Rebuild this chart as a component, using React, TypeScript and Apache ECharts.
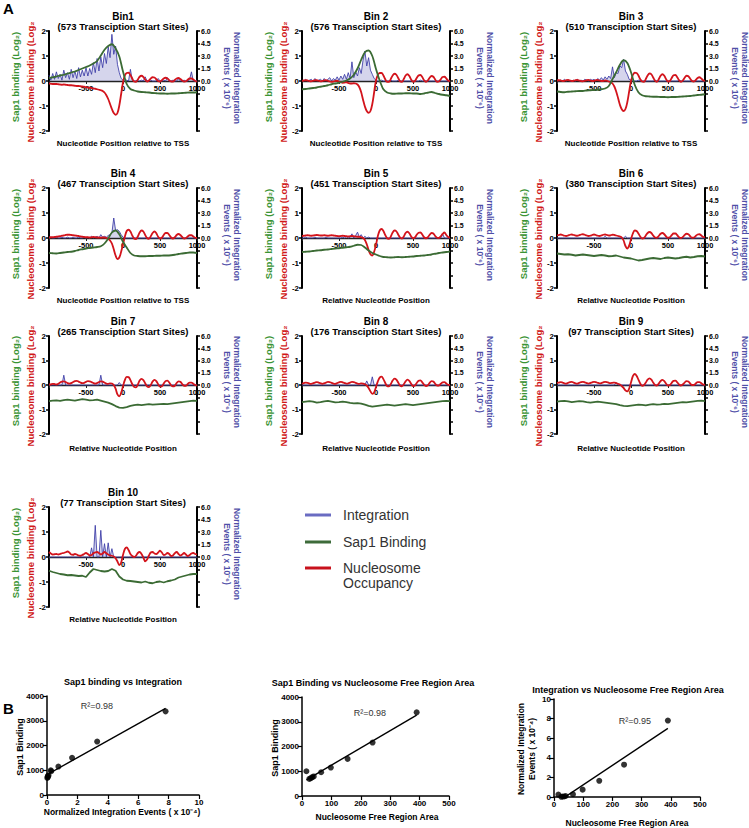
import React, { useEffect, useRef } from "react";
import * as echarts from "echarts";

// ---------- DATA ----------
const BIN_NAMES = ["Bin1", "Bin 2", "Bin 3", "Bin 4", "Bin 5", "Bin 6", "Bin 7", "Bin 8", "Bin 9", "Bin 10"];
const BIN_TSS = [573, 576, 510, 467, 451, 380, 265, 176, 97, 77];
const X_NAMES = [
  "Nucleotide Position relative to TSS", "Nucleotide Position relative to TSS", "Nucleotide Position relative to TSS",
  "Nucleotide Position relative to TSS", "Relative Nucleotide Position", "Relative Nucleotide Position",
  "Relative Nucleotide Position", "Relative Nucleotide Position", "Relative Nucleotide Position", "Relative Nucleotide Position",
];
// nucleotide positions (-1000..1000)
const POS_25 = Array.from({ length: 81 }, (_, k) => -1000 + 25 * k);
const POS_50 = Array.from({ length: 41 }, (_, k) => -1000 + 50 * k);

// Nucleosome binding (Log2), every 25 nt
const NUC_1 = [
  -0.10, -0.11, -0.12, -0.12, -0.12, -0.13, -0.14, -0.15, -0.14, -0.15,
  -0.16, -0.17, -0.17, -0.18, -0.19, -0.20, -0.20, -0.21, -0.22, -0.23,
  -0.25, -0.26, -0.27, -0.28, -0.30, -0.31, -0.33, -0.35, -0.37, -0.40,
  -0.46, -0.57, -0.72, -0.92, -1.12, -1.28, -1.35, -1.28, -0.98, -0.52,
  -0.05, 0.22, 0.32, 0.33, 0.24, 0.10, -0.02, -0.03, 0.06, 0.17,
  0.21, 0.16, 0.06, -0.02, 0.02, 0.10, 0.15, 0.14, 0.07, 0.00,
  -0.02, 0.03, 0.10, 0.13, 0.10, 0.03, -0.02, -0.02, 0.04, 0.10,
  0.12, 0.08, 0.02, -0.02, -0.01, 0.05, 0.10, 0.10, 0.06, 0.00,
  -0.02,
];
const NUC_2 = [
  0.00, 0.02, 0.03, 0.02, 0.00, -0.01, 0.01, 0.03, 0.03, 0.01,
  -0.01, 0.00, 0.02, 0.03, 0.01, -0.02, -0.03, -0.02, 0.00, 0.01,
  -0.02, -0.05, -0.07, -0.06, -0.05, -0.08, -0.10, -0.10, -0.09, -0.10,
  -0.14, -0.25, -0.45, -0.75, -1.02, -1.20, -1.27, -1.20, -0.92, -0.45,
  0.02, 0.24, 0.32, 0.32, 0.22, 0.07, -0.03, -0.03, 0.08, 0.22,
  0.29, 0.25, 0.12, -0.01, -0.03, 0.08, 0.22, 0.27, 0.20, 0.06,
  -0.03, 0.00, 0.12, 0.22, 0.24, 0.16, 0.03, -0.03, 0.02, 0.13,
  0.20, 0.17, 0.06, -0.03, -0.02, 0.07, 0.16, 0.17, 0.10, 0.02,
  -0.01,
];
const NUC_3 = [
  0.02, 0.03, 0.02, 0.00, 0.01, 0.03, 0.04, 0.02, 0.00, 0.01,
  0.03, 0.04, 0.02, 0.00, -0.01, 0.01, 0.03, 0.04, 0.02, 0.00,
  0.01, 0.03, 0.04, 0.02, 0.00, 0.00, 0.02, 0.01, -0.02, -0.05,
  -0.10, -0.22, -0.42, -0.68, -0.95, -1.13, -1.20, -1.12, -0.85, -0.42,
  0.00, 0.24, 0.33, 0.32, 0.22, 0.07, -0.02, -0.03, 0.08, 0.22,
  0.30, 0.27, 0.14, 0.01, -0.03, 0.07, 0.21, 0.27, 0.21, 0.07,
  -0.02, 0.00, 0.12, 0.23, 0.24, 0.15, 0.03, -0.03, 0.02, 0.13,
  0.21, 0.19, 0.09, 0.00, -0.02, 0.04, 0.12, 0.15, 0.10, 0.03,
  0.00,
];
const NUC_4 = [
  0.02, 0.03, 0.03, 0.04, 0.05, 0.06, 0.07, 0.09, 0.10, 0.12,
  0.13, 0.13, 0.12, 0.11, 0.10, 0.09, 0.08, 0.06, 0.05, 0.04,
  0.03, 0.03, 0.02, 0.03, 0.04, 0.03, 0.02, 0.02, 0.01, 0.02,
  0.02, 0.00, -0.03, -0.10, -0.22, -0.45, -0.70, -0.84, -0.78, -0.55,
  -0.25, 0.05, 0.28, 0.33, 0.26, 0.10, -0.02, -0.04, 0.06, 0.22,
  0.30, 0.26, 0.12, 0.00, -0.03, 0.07, 0.20, 0.26, 0.19, 0.05,
  -0.02, 0.01, 0.12, 0.20, 0.20, 0.12, 0.02, -0.02, 0.03, 0.12,
  0.16, 0.12, 0.04, -0.02, 0.00, 0.06, 0.11, 0.11, 0.06, 0.01,
  0.00,
];
const NUC_5 = [
  0.08, 0.09, 0.10, 0.11, 0.10, 0.09, 0.10, 0.11, 0.12, 0.11,
  0.10, 0.10, 0.11, 0.10, 0.09, 0.10, 0.11, 0.10, 0.09, 0.08,
  0.07, 0.08, 0.09, 0.08, 0.07, 0.06, 0.07, 0.08, 0.07, 0.06,
  0.05, 0.05, 0.03, 0.00, -0.08, -0.25, -0.48, -0.65, -0.70, -0.55,
  -0.27, 0.08, 0.30, 0.36, 0.28, 0.12, -0.01, -0.03, 0.06, 0.22,
  0.30, 0.27, 0.14, 0.02, -0.02, 0.06, 0.20, 0.25, 0.19, 0.06,
  -0.01, 0.02, 0.13, 0.21, 0.22, 0.14, 0.03, -0.01, 0.03, 0.13,
  0.20, 0.18, 0.08, 0.01, 0.00, 0.07, 0.16, 0.22, 0.12, 0.04,
  0.02,
];
const NUC_6 = [
  0.10, 0.12, 0.14, 0.12, 0.09, 0.08, 0.10, 0.13, 0.14, 0.12,
  0.10, 0.09, 0.11, 0.14, 0.15, 0.13, 0.10, 0.08, 0.09, 0.12,
  0.14, 0.12, 0.09, 0.08, 0.10, 0.13, 0.14, 0.12, 0.10, 0.11,
  0.13, 0.12, 0.10, 0.08, 0.06, 0.02, -0.10, -0.32, -0.42, -0.30,
  -0.05, 0.18, 0.30, 0.28, 0.18, 0.06, -0.02, 0.00, 0.10, 0.20,
  0.24, 0.20, 0.10, 0.02, 0.01, 0.08, 0.17, 0.20, 0.15, 0.06,
  0.01, 0.03, 0.11, 0.18, 0.18, 0.11, 0.03, 0.00, 0.04, 0.12,
  0.17, 0.15, 0.07, 0.01, 0.02, 0.08, 0.14, 0.15, 0.10, 0.04,
  0.03,
];
const NUC_7 = [
  0.02, 0.03, 0.05, 0.04, 0.02, 0.05, 0.10, 0.14, 0.15, 0.12,
  0.08, 0.06, 0.08, 0.12, 0.16, 0.17, 0.14, 0.10, 0.08, 0.09,
  0.13, 0.16, 0.15, 0.12, 0.08, 0.06, 0.08, 0.12, 0.15, 0.14,
  0.10, 0.06, 0.05, 0.07, 0.06, 0.00, -0.15, -0.38, -0.46, -0.32,
  -0.05, 0.20, 0.33, 0.32, 0.20, 0.04, -0.08, -0.10, 0.02, 0.18,
  0.25, 0.20, 0.07, -0.06, -0.09, 0.00, 0.14, 0.21, 0.16, 0.03,
  -0.07, -0.05, 0.06, 0.16, 0.18, 0.10, -0.01, -0.06, -0.03, 0.08,
  0.15, 0.13, 0.04, -0.03, -0.03, 0.04, 0.10, 0.10, 0.05, 0.00,
  -0.02,
];
const NUC_8 = [
  0.05, 0.08, 0.10, 0.09, 0.06, 0.05, 0.07, 0.10, 0.12, 0.10,
  0.07, 0.05, 0.07, 0.10, 0.13, 0.12, 0.09, 0.06, 0.05, 0.08,
  0.11, 0.13, 0.11, 0.08, 0.06, 0.07, 0.10, 0.13, 0.12, 0.09,
  0.06, 0.05, 0.07, 0.06, 0.03, -0.02, -0.12, -0.26, -0.36, -0.30,
  -0.08, 0.15, 0.30, 0.34, 0.24, 0.08, -0.04, -0.06, 0.04, 0.18,
  0.26, 0.22, 0.10, -0.02, -0.05, 0.03, 0.15, 0.22, 0.17, 0.05,
  -0.04, -0.02, 0.08, 0.17, 0.19, 0.11, 0.01, -0.04, -0.01, 0.09,
  0.16, 0.14, 0.05, -0.02, -0.02, 0.05, 0.11, 0.12, 0.06, 0.01,
  0.00,
];
const NUC_9 = [
  0.08, 0.10, 0.12, 0.10, 0.07, 0.06, 0.09, 0.12, 0.13, 0.10,
  0.07, 0.06, 0.09, 0.12, 0.13, 0.11, 0.08, 0.06, 0.08, 0.11,
  0.13, 0.12, 0.09, 0.07, 0.08, 0.11, 0.13, 0.12, 0.09, 0.08,
  0.09, 0.10, 0.08, 0.05, 0.02, -0.04, -0.12, -0.22, -0.26, -0.15,
  0.10, 0.36, 0.45, 0.38, 0.22, 0.06, -0.03, 0.00, 0.10, 0.22,
  0.27, 0.22, 0.10, 0.00, -0.02, 0.06, 0.16, 0.21, 0.16, 0.05,
  -0.02, 0.00, 0.09, 0.17, 0.18, 0.11, 0.02, -0.02, 0.02, 0.10,
  0.16, 0.14, 0.06, 0.00, 0.00, 0.06, 0.12, 0.12, 0.07, 0.02,
  0.01,
];
const NUC_10 = [
  0.20, 0.14, 0.10, 0.11, 0.12, 0.10, 0.12, 0.15, 0.16, 0.19,
  0.22, 0.18, 0.10, 0.09, 0.12, 0.10, 0.06, 0.05, 0.08, 0.12,
  0.16, 0.12, 0.06, 0.08, 0.15, 0.18, 0.20, 0.16, 0.10, 0.14,
  0.20, 0.15, 0.10, 0.06, 0.05, 0.02, -0.05, -0.18, -0.32, -0.22,
  0.08, 0.32, 0.38, 0.28, 0.12, 0.04, 0.00, 0.05, 0.16, 0.20,
  0.12, -0.02, -0.17, -0.10, 0.06, 0.18, 0.20, 0.14, 0.12, 0.18,
  0.25, 0.18, 0.08, 0.10, 0.16, 0.12, 0.04, 0.06, 0.15, 0.20,
  0.12, 0.06, 0.10, 0.16, 0.10, 0.04, 0.08, 0.14, 0.16, 0.12,
  0.10,
];

// Sap1 binding (Log2), every 50 nt
const SAP_1 = [
  0.12, 0.15, 0.18, 0.22, 0.25, 0.30, 0.34, 0.38, 0.44, 0.50,
  0.56, 0.62, 0.70, 0.80, 1.02, 1.25, 1.40, 1.47, 1.30, 0.98,
  0.38, -0.12, -0.32, -0.38, -0.42, -0.44, -0.45, -0.46, -0.48, -0.49,
  -0.50, -0.50, -0.51, -0.50, -0.50, -0.49, -0.48, -0.47, -0.46, -0.46,
  -0.45,
];
const SAP_2 = [
  -0.33, -0.32, -0.30, -0.28, -0.26, -0.23, -0.20, -0.17, -0.13, -0.10,
  -0.07, -0.03, 0.02, 0.10, 0.25, 0.50, 0.85, 1.15, 1.22, 1.00,
  0.48, 0.02, -0.33, -0.46, -0.50, -0.51, -0.50, -0.50, -0.49, -0.49,
  -0.50, -0.50, -0.52, -0.50, -0.47, -0.44, -0.48, -0.52, -0.55, -0.57,
  -0.60,
];
const SAP_3 = [
  -0.42, -0.44, -0.45, -0.43, -0.42, -0.41, -0.40, -0.40, -0.38, -0.37,
  -0.36, -0.35, -0.33, -0.30, -0.20, 0.08, 0.35, 0.65, 0.83, 0.72,
  0.35, -0.15, -0.45, -0.57, -0.61, -0.62, -0.63, -0.63, -0.64, -0.64,
  -0.65, -0.64, -0.64, -0.63, -0.62, -0.61, -0.60, -0.58, -0.56, -0.55,
  -0.53,
];
const SAP_4 = [
  -0.60, -0.61, -0.62, -0.60, -0.58, -0.56, -0.55, -0.52, -0.48, -0.45,
  -0.42, -0.40, -0.38, -0.36, -0.33, -0.22, -0.02, 0.22, 0.30, 0.15,
  -0.15, -0.38, -0.60, -0.70, -0.72, -0.73, -0.73, -0.72, -0.72, -0.71,
  -0.71, -0.70, -0.70, -0.69, -0.67, -0.64, -0.62, -0.60, -0.58, -0.58,
  -0.60,
];
const SAP_5 = [
  -0.56, -0.55, -0.54, -0.52, -0.50, -0.49, -0.47, -0.46, -0.44, -0.42,
  -0.41, -0.39, -0.37, -0.35, -0.31, -0.27, -0.28, -0.38, -0.50, -0.60,
  -0.66, -0.72, -0.76, -0.77, -0.78, -0.77, -0.76, -0.77, -0.76, -0.75,
  -0.74, -0.72, -0.71, -0.70, -0.68, -0.66, -0.63, -0.60, -0.58, -0.56,
  -0.54,
];
const SAP_6 = [
  -0.62, -0.64, -0.66, -0.65, -0.67, -0.70, -0.68, -0.66, -0.68, -0.70,
  -0.72, -0.70, -0.68, -0.70, -0.73, -0.72, -0.70, -0.74, -0.78, -0.80,
  -0.82, -0.86, -0.90, -0.88, -0.85, -0.82, -0.80, -0.82, -0.84, -0.80,
  -0.78, -0.80, -0.82, -0.80, -0.77, -0.75, -0.78, -0.76, -0.73, -0.72,
  -0.74,
];
const SAP_7 = [
  -0.66, -0.64, -0.63, -0.65, -0.62, -0.60, -0.62, -0.64, -0.61, -0.58,
  -0.60, -0.63, -0.62, -0.60, -0.64, -0.68, -0.72, -0.78, -0.86, -0.92,
  -0.93, -0.90, -0.85, -0.82, -0.80, -0.82, -0.80, -0.78, -0.80, -0.79,
  -0.78, -0.77, -0.78, -0.76, -0.74, -0.72, -0.70, -0.68, -0.66, -0.64,
  -0.65,
];
const SAP_8 = [
  -0.70, -0.68, -0.66, -0.68, -0.72, -0.70, -0.67, -0.65, -0.68, -0.71,
  -0.70, -0.68, -0.70, -0.73, -0.75, -0.74, -0.76, -0.80, -0.85, -0.88,
  -0.86, -0.84, -0.82, -0.80, -0.82, -0.84, -0.82, -0.80, -0.78, -0.80,
  -0.82, -0.80, -0.78, -0.76, -0.74, -0.72, -0.70, -0.68, -0.66, -0.65,
  -0.66,
];
const SAP_9 = [
  -0.68, -0.66, -0.65, -0.67, -0.70, -0.68, -0.66, -0.67, -0.70, -0.72,
  -0.70, -0.68, -0.70, -0.72, -0.74, -0.76, -0.78, -0.82, -0.85, -0.86,
  -0.84, -0.82, -0.80, -0.81, -0.83, -0.80, -0.78, -0.80, -0.79, -0.77,
  -0.78, -0.76, -0.74, -0.72, -0.70, -0.71, -0.69, -0.67, -0.65, -0.64,
  -0.66,
];
const SAP_10 = [
  -0.55, -0.60, -0.64, -0.68, -0.70, -0.73, -0.72, -0.74, -0.76, -0.75,
  -0.80, -0.62, -0.48, -0.52, -0.56, -0.58, -0.56, -0.48, -0.55, -0.78,
  -0.90, -0.95, -0.96, -0.98, -1.00, -1.02, -0.98, -1.03, -1.05, -1.00,
  -0.98, -1.02, -0.97, -0.94, -0.90, -0.82, -0.78, -0.74, -0.70, -0.68,
  -0.68,
];

// Normalized integration events (x 10^-6), every 25 nt
const INT_1 = [
  0.7, 0.1, 0.9, 0.2, 1.1, 0.3, 0.8, 0.1, 1.3, 0.4,
  1.0, 0.2, 1.4, 0.4, 1.2, 0.3, 1.6, 0.5, 1.3, 0.6,
  1.6, 0.6, 1.5, 0.8, 2.2, 1.0, 2.7, 1.2, 2.9, 1.6,
  3.3, 2.1, 4.1, 2.8, 5.6, 3.2, 4.2, 2.0, 1.0, 0.3,
  0.1, 0.0, 0.1, 0.0, 1.4, 0.1, 0.0, 0.0, 0.2, 0.0,
  0.1, 0.0, 0.5, 0.0, 0.0, 0.1, 0.0, 0.0, 0.0, 0.3,
  0.0, 0.0, 0.1, 0.0, 0.4, 0.0, 0.0, 0.1, 0.0, 0.0,
  0.3, 0.0, 0.0, 0.1, 0.0, 0.0, 0.2, 1.1, 0.0, 0.0,
  0.1,
];
const INT_2 = [
  0.1, 0.0, 0.2, 0.0, 0.1, 0.2, 0.0, 0.3, 0.0, 0.1,
  0.2, 0.0, 0.3, 0.0, 0.2, 0.4, 0.0, 0.3, 0.1, 0.5,
  0.1, 0.6, 0.2, 0.8, 0.2, 1.0, 0.3, 2.3, 0.4, 1.1,
  0.6, 1.6, 0.9, 2.5, 3.6, 1.8, 2.8, 1.3, 0.8, 0.3,
  0.1, 0.0, 0.0, 0.1, 0.0, 0.0, 0.0, 0.0, 0.1, 0.0,
  0.0, 0.0, 0.1, 0.0, 0.0, 0.0, 0.0, 0.0, 0.0, 0.0,
  0.0, 0.0, 0.0, 0.0, 0.1, 0.0, 0.0, 0.0, 0.0, 0.0,
  0.0, 0.0, 0.0, 0.0, 0.0, 0.0, 0.0, 0.0, 0.0, 0.0,
  0.0,
];
const INT_3 = [
  0.1, 0.0, 0.1, 0.0, 0.2, 0.0, 0.1, 0.0, 0.0, 0.1,
  0.0, 0.2, 0.0, 0.1, 0.0, 0.2, 0.1, 0.0, 0.2, 0.1,
  0.2, 0.0, 0.3, 0.1, 0.4, 0.1, 0.5, 0.2, 0.6, 0.3,
  1.7, 0.4, 1.0, 0.9, 1.8, 1.6, 2.6, 1.2, 0.8, 0.2,
  0.1, 0.0, 0.0, 0.0, 0.1, 0.0, 0.0, 0.0, 0.0, 0.0,
  0.0, 0.0, 0.0, 0.1, 0.0, 0.0, 0.0, 0.0, 0.0, 0.0,
  0.0, 0.0, 0.0, 0.0, 0.0, 0.0, 0.1, 0.0, 0.0, 0.0,
  0.0, 0.0, 0.0, 0.0, 0.0, 0.0, 0.0, 0.0, 0.0, 0.0,
  0.0,
];
const INT_4 = [
  0.0, 0.1, 0.0, 0.0, 0.1, 0.0, 0.0, 0.1, 0.0, 0.0,
  0.1, 0.0, 0.0, 0.1, 0.0, 0.0, 0.1, 0.0, 0.0, 0.1,
  0.0, 0.1, 0.0, 0.2, 0.0, 0.1, 0.2, 0.0, 0.4, 0.1,
  0.2, 0.1, 0.3, 0.4, 0.6, 2.4, 0.9, 1.0, 0.8, 0.4,
  0.1, 0.0, 0.0, 0.0, 0.0, 0.0, 0.0, 0.0, 0.0, 0.0,
  0.0, 0.0, 0.0, 0.0, 0.0, 0.0, 0.0, 0.0, 0.0, 0.0,
  0.0, 0.0, 0.0, 0.0, 0.0, 0.0, 0.0, 0.0, 0.0, 0.0,
  0.0, 0.0, 0.0, 0.0, 0.0, 0.0, 0.0, 0.0, 0.0, 0.0,
  0.0,
];
const INT_5 = [
  0.0, 0.0, 0.1, 0.0, 0.0, 0.0, 0.0, 0.1, 0.0, 0.0,
  0.0, 0.0, 0.0, 0.1, 0.0, 0.0, 0.0, 0.0, 0.0, 0.0,
  0.0, 0.0, 0.1, 0.0, 0.2, 0.0, 0.1, 0.5, 0.0, 0.3,
  0.7, 0.1, 0.4, 0.0, 0.2, 0.0, 0.1, 0.0, 0.0, 0.0,
  0.0, 0.0, 0.0, 0.0, 0.0, 0.0, 0.0, 0.0, 0.0, 0.0,
  0.0, 0.0, 0.0, 0.0, 0.0, 0.0, 0.0, 0.0, 0.0, 0.0,
  0.0, 0.0, 0.0, 0.0, 0.0, 0.0, 0.0, 0.0, 0.0, 0.0,
  0.0, 0.0, 0.0, 0.0, 0.0, 0.0, 0.5, 0.0, 0.0, 0.0,
  0.0,
];
const INT_6 = [
  0.0, 0.0, 0.0, 0.0, 0.0, 0.0, 0.0, 0.0, 0.0, 0.0,
  0.0, 0.0, 0.0, 0.0, 0.0, 0.0, 0.0, 0.0, 0.0, 0.0,
  0.0, 0.0, 0.0, 0.0, 0.0, 0.0, 0.2, 0.0, 0.0, 0.0,
  0.0, 0.0, 0.0, 0.0, 0.0, 0.0, 0.0, 0.2, 0.0, 0.0,
  0.0, 0.0, 0.0, 0.0, 0.0, 0.0, 0.0, 0.0, 0.0, 0.0,
  0.0, 0.0, 0.0, 0.0, 0.0, 0.0, 0.0, 0.0, 0.0, 0.0,
  0.0, 0.0, 0.0, 0.0, 0.0, 0.0, 0.0, 0.0, 0.0, 0.0,
  0.0, 0.0, 0.0, 0.0, 0.0, 0.0, 0.0, 0.0, 0.0, 0.0,
  0.0,
];
const INT_7 = [
  0.0, 0.0, 0.0, 0.0, 0.0, 0.0, 0.0, 0.0, 1.2, 0.0,
  0.0, 0.0, 0.0, 0.0, 0.0, 0.0, 0.0, 0.0, 0.0, 0.0,
  0.0, 0.0, 0.0, 0.0, 0.0, 0.0, 0.0, 0.0, 1.2, 0.0,
  0.0, 0.0, 0.0, 0.0, 0.0, 0.0, 0.0, 0.0, 0.3, 0.0,
  0.0, 0.0, 0.0, 0.0, 0.0, 0.0, 0.0, 0.0, 0.0, 0.0,
  0.0, 0.0, 0.0, 0.0, 0.0, 0.0, 0.0, 0.0, 0.0, 0.0,
  0.0, 0.0, 0.0, 0.0, 0.0, 0.0, 0.0, 0.0, 0.0, 0.0,
  0.0, 0.0, 0.0, 0.0, 0.0, 0.0, 0.0, 0.0, 0.0, 0.0,
  0.0,
];
const INT_8 = [
  0.0, 0.0, 0.0, 0.0, 0.0, 0.0, 0.0, 0.0, 0.0, 0.0,
  0.0, 0.0, 0.0, 0.0, 0.0, 0.0, 0.0, 0.0, 0.0, 0.0,
  0.0, 0.0, 0.0, 0.0, 0.0, 0.0, 0.0, 0.0, 0.0, 0.0,
  0.0, 0.0, 0.0, 0.0, 0.0, 0.5, 0.0, 0.0, 1.0, 0.0,
  0.0, 0.0, 0.0, 0.0, 0.0, 0.0, 0.0, 0.0, 0.0, 0.0,
  0.0, 0.0, 0.0, 0.0, 0.0, 0.0, 0.0, 0.0, 0.0, 0.0,
  0.0, 0.0, 0.0, 0.0, 0.0, 0.0, 0.0, 0.0, 0.0, 0.0,
  0.0, 0.0, 0.0, 0.0, 0.0, 0.0, 0.0, 0.0, 0.0, 0.0,
  0.0,
];
const INT_9 = [
  0.0, 0.0, 0.0, 0.0, 0.0, 0.0, 0.0, 0.0, 0.0, 0.0,
  0.0, 0.0, 0.0, 0.0, 0.0, 0.0, 0.0, 0.0, 0.0, 0.0,
  0.0, 0.0, 0.0, 0.0, 0.0, 0.0, 0.0, 0.0, 0.0, 0.0,
  0.0, 0.0, 0.3, 0.0, 0.0, 0.0, 0.0, 0.0, 0.0, 0.0,
  0.0, 0.0, 0.0, 0.0, 0.0, 0.0, 0.0, 0.0, 0.0, 0.0,
  0.0, 0.0, 0.0, 0.0, 0.0, 0.0, 0.0, 0.0, 0.0, 0.0,
  0.0, 0.0, 0.0, 0.0, 0.0, 0.0, 0.0, 0.0, 0.0, 0.0,
  0.0, 0.0, 0.0, 0.0, 0.0, 0.0, 0.0, 0.0, 0.0, 0.0,
  0.0,
];
const INT_10 = [
  0.0, 0.0, 0.0, 0.0, 0.0, 0.0, 0.0, 0.0, 0.0, 0.0,
  0.0, 0.0, 0.0, 0.0, 0.0, 0.0, 0.0, 0.0, 0.0, 0.0,
  0.0, 0.0, 0.0, 1.1, 0.0, 3.8, 0.0, 0.0, 3.2, 0.0,
  1.6, 0.0, 1.7, 0.0, 1.0, 0.0, 0.0, 0.0, 0.0, 0.0,
  0.0, 0.0, 0.0, 0.0, 0.0, 0.0, 0.0, 0.0, 0.0, 0.0,
  0.0, 0.0, 0.0, 0.0, 0.0, 0.0, 0.0, 0.0, 0.0, 0.0,
  0.0, 0.0, 0.0, 0.0, 0.0, 0.0, 0.0, 0.0, 0.0, 0.0,
  0.0, 0.0, 0.0, 0.0, 0.0, 0.0, 0.0, 0.0, 0.0, 0.0,
  0.0,
];

const NUC = [NUC_1, NUC_2, NUC_3, NUC_4, NUC_5, NUC_6, NUC_7, NUC_8, NUC_9, NUC_10];
const SAP = [SAP_1, SAP_2, SAP_3, SAP_4, SAP_5, SAP_6, SAP_7, SAP_8, SAP_9, SAP_10];
const INT = [INT_1, INT_2, INT_3, INT_4, INT_5, INT_6, INT_7, INT_8, INT_9, INT_10];

// Panel B: per-bin summaries (Bin1..Bin10)
const NFR_AREA = [390, 240, 155, 98, 65, 40, 35, 30, 25, 15];
const SAP1_TOTAL = [3380, 2160, 1500, 1150, 960, 790, 760, 720, 690, 1000];
const INTEGRATION_TOTAL = [7.8, 3.3, 1.65, 0.75, 0.28, 0.1, 0.05, 0.05, 0.02, 0.25];
const R2_LABELS = ["R²=0.98", "R²=0.98", "R²=0.95"];

// ---------- STYLE / LAYOUT ----------
const FONT = '"Liberation Sans", Arial, Helvetica, sans-serif';
const RED = "#d3141c";
const GREEN = "#3b6b34";
const BLUE = "#3a3aa6";
const COL_LEFT = [49, 302, 557];
const ROW_TOP = [31, 188, 336, 507];
const ROW_H = [100, 100, 98, 100];
const PW = 148;

function fit(xs: number[], ys: number[]) {
  const n = xs.length;
  const mx = xs.reduce((a, b) => a + b, 0) / n;
  const my = ys.reduce((a, b) => a + b, 0) / n;
  let sxy = 0, sxx = 0;
  for (let i = 0; i < n; i++) {
    sxy += (xs[i] - mx) * (ys[i] - my);
    sxx += (xs[i] - mx) ** 2;
  }
  const b = sxy / sxx;
  return { a: my - b * mx, b };
}

function txt(t: string, x: number, y: number, o: any = {}) {
  return {
    type: "text",
    x,
    y,
    rotation: o.rot || 0,
    z: 100,
    silent: true,
    style: {
      text: t,
      fill: o.color || "#000",
      fontSize: o.size || 9,
      fontWeight: o.weight || "bold",
      fontFamily: FONT,
      align: o.align || "center",
      verticalAlign: "middle",
    },
  };
}

function buildOption() {
  const grid: any[] = [];
  const xAxis: any[] = [];
  const yAxis: any[] = [];
  const series: any[] = [];
  const graphic: any[] = [];

  const lab = { fontFamily: FONT, fontWeight: "bold", color: "#000", fontSize: 7.5 };

  BIN_NAMES.forEach((name, i) => {
    const col = i % 3;
    const row = Math.floor(i / 3);
    const left = COL_LEFT[col];
    const top = ROW_TOP[row];
    const h = ROW_H[row];
    grid.push({ left, top, width: PW, height: h });
    xAxis.push({
      gridIndex: i,
      type: "value",
      position: "bottom",
      offset: -h / 2,
      min: -1000,
      max: 1000,
      interval: 500,
      splitLine: { show: false },
      axisLine: { onZero: false, lineStyle: { color: "#222", width: 1.3 } },
      axisTick: { show: true, length: 3, lineStyle: { color: "#222", width: 1 } },
      axisLabel: {
        ...lab,
        margin: 3,
        formatter: (v: number) => (v === -1000 ? "" : String(v)),
      },
    });
    yAxis.push({
      gridIndex: i,
      type: "value",
      position: "left",
      min: -2,
      max: 2,
      interval: 1,
      splitLine: { show: false },
      axisLine: { show: true, onZero: false, lineStyle: { color: "#000", width: 2 } },
      axisTick: { show: true, length: 3, lineStyle: { color: "#000", width: 1.5 } },
      axisLabel: { ...lab, fontSize: 8, margin: 3 },
    });
    yAxis.push({
      gridIndex: i,
      type: "value",
      position: "right",
      min: -6,
      max: 6,
      interval: 1.5,
      splitLine: { show: false },
      axisLine: { show: true, onZero: false, lineStyle: { color: "#000", width: 2 } },
      axisTick: { show: true, length: 3, lineStyle: { color: "#000", width: 1.5 } },
      axisLabel: {
        ...lab,
        fontSize: 7,
        margin: 4,
        formatter: (v: number) => (v >= 0 ? v.toFixed(1) : ""),
      },
    });
    series.push({
      name: "Integration",
      type: "line",
      xAxisIndex: i,
      yAxisIndex: 2 * i + 1,
      data: POS_25.map((x, k) => [x, INT[i][k]]),
      symbol: "none",
      lineStyle: { color: BLUE, width: 0.9, opacity: 0.95 },
      areaStyle: { color: "rgba(58,58,166,0.3)" },
      z: 2,
    });
    series.push({
      name: "Nucleosome Occupancy",
      type: "line",
      xAxisIndex: i,
      yAxisIndex: 2 * i,
      data: POS_25.map((x, k) => [x, NUC[i][k]]),
      symbol: "none",
      smooth: 0.35,
      lineStyle: { color: RED, width: 1.8 },
      z: 3,
    });
    series.push({
      name: "Sap1 Binding",
      type: "line",
      xAxisIndex: i,
      yAxisIndex: 2 * i,
      data: POS_50.map((x, k) => [x, SAP[i][k]]),
      symbol: "none",
      smooth: i < 5 ? 0.3 : 0,
      lineStyle: { color: GREEN, width: 1.8 },
      z: 4,
    });

    const cx = left + PW / 2;
    graphic.push(txt(name, cx, top - 15, { size: 10 }));
    graphic.push(txt(`(${BIN_TSS[i]} Transciption Start Sites)`, cx, top - 5, { size: 9.5 }));
    graphic.push(txt(X_NAMES[i], cx, top + 112, { size: 8 }));
    const mid = top + h / 2;
    graphic.push(txt("Sap1 binding (Log₂)", left - 34, mid - 4, { rot: Math.PI / 2, color: "#3a9434", size: 9.5 }));
    graphic.push(txt("Nucleosome binding (Log₂", left - 19, mid + 1, { rot: Math.PI / 2, color: "#d01818", size: 9.5 }));
    graphic.push(txt("Normalized Integration", left + PW + 40, mid - 3, { rot: -Math.PI / 2, color: "#4f4fa8", size: 8.5 }));
    graphic.push(txt("Events ( x 10⁻⁶)", left + PW + 30, mid - 3, { rot: -Math.PI / 2, color: "#4f4fa8", size: 8.5 }));
  });

  // ---- Panel B scatter plots ----
  const sc = [
    { left: 47, top: 696, width: 152, height: 99, xs: INTEGRATION_TOTAL, ys: SAP1_TOTAL, xmax: 10, xint: 2, ymax: 4000, yint: 1000 },
    { left: 302, top: 697, width: 147, height: 99, xs: NFR_AREA, ys: SAP1_TOTAL, xmax: 500, xint: 100, ymax: 4000, yint: 1000 },
    { left: 554, top: 699, width: 146, height: 98, xs: NFR_AREA, ys: INTEGRATION_TOTAL, xmax: 500, xint: 100, ymax: 10, yint: 2 },
  ];
  sc.forEach((s, j) => {
    const gi = 10 + j;
    grid.push({ left: s.left, top: s.top, width: s.width, height: s.height });
    xAxis.push({
      gridIndex: gi,
      type: "value",
      min: 0,
      max: s.xmax,
      interval: s.xint,
      splitLine: { show: false },
      axisLine: { onZero: false, lineStyle: { color: "#000", width: 1.5 } },
      axisTick: { show: true, length: 4, lineStyle: { color: "#000", width: 1.2 } },
      axisLabel: { ...lab, fontSize: 8, margin: 3, formatter: (v: number) => String(v) },
    });
    yAxis.push({
      gridIndex: gi,
      type: "value",
      min: 0,
      max: s.ymax,
      interval: s.yint,
      splitLine: { show: false },
      axisLine: { show: true, onZero: false, lineStyle: { color: "#000", width: 1.5 } },
      axisTick: { show: true, length: 4, lineStyle: { color: "#000", width: 1.2 } },
      axisLabel: { ...lab, fontSize: 8, margin: 3, formatter: (v: number) => String(v) },
    });
    const f = fit(s.xs, s.ys);
    const x0 = Math.min(...s.xs);
    const x1 = Math.max(...s.xs);
    series.push({
      type: "line",
      xAxisIndex: gi,
      yAxisIndex: 20 + j,
      data: [[x0, f.a + f.b * x0], [x1, f.a + f.b * x1]],
      symbol: "none",
      clip: true,
      lineStyle: { color: "#000", width: 1.4 },
      z: 3,
    });
    series.push({
      type: "scatter",
      xAxisIndex: gi,
      yAxisIndex: 20 + j,
      data: s.xs.map((x, k) => [x, s.ys[k]]),
      symbol: "circle",
      symbolSize: 6,
      itemStyle: { color: "#000" },
      z: 4,
    });
  });

  // Panel B texts
  graphic.push(txt("Sap1 binding vs Integration", 123, 682, { size: 9 }));
  graphic.push(txt("Sap1 Binding vs Nucleosome Free Region Area", 373, 683, { size: 9 }));
  graphic.push(txt("Integration vs Nucleosome Free Region Area", 628, 690, { size: 9 }));
  graphic.push(txt("Sap1 Binding", 20, 747, { rot: Math.PI / 2, size: 9 }));
  graphic.push(txt("Sap1 Binding", 275, 748, { rot: Math.PI / 2, size: 9 }));
  graphic.push(txt("Normalized Integration", 521, 749, { rot: Math.PI / 2, size: 8.5 }));
  graphic.push(txt("Events ( x 10⁻⁴)", 532, 749, { rot: Math.PI / 2, size: 8.5 }));
  graphic.push(txt("Normalized Integration Events ( x 10⁻⁴)", 122, 812, { size: 8.5 }));
  graphic.push(txt("Nucleosome Free Region Area", 377, 817, { size: 8.5 }));
  graphic.push(txt("Nucleosome Free Region Area", 627, 823, { size: 8.5 }));
  graphic.push(txt(R2_LABELS[0], 97, 706, { size: 9, weight: "normal", color: "#333" }));
  graphic.push(txt(R2_LABELS[1], 370, 713, { size: 9, weight: "normal", color: "#333" }));
  graphic.push(txt(R2_LABELS[2], 635, 721, { size: 9, weight: "normal", color: "#333" }));

  // Panel letters
  graphic.push(txt("A", 3, 8, { size: 15, align: "left" }));
  graphic.push(txt("B", 3, 708, { size: 15, align: "left" }));

  // Legend
  const legend = [
    { label: "Integration", color: "#6a6cc2", y: 515 },
    { label: "Sap1 Binding", color: "#3d6b3a", y: 542 },
    { label: "Nucleosome", color: "#c8121c", y: 568 },
  ];
  legend.forEach((l) => {
    graphic.push({
      type: "line",
      silent: true,
      z: 100,
      shape: { x1: 305, y1: l.y, x2: 331, y2: l.y },
      style: { stroke: l.color, lineWidth: 3 },
    });
    graphic.push(txt(l.label, 343, l.y, { size: 14, weight: "normal", color: "#333", align: "left" }));
  });
  graphic.push(txt("Occupancy", 343, 583, { size: 14, weight: "normal", color: "#333", align: "left" }));

  return {
    animation: false,
    backgroundColor: "#fff",
    grid,
    xAxis,
    yAxis,
    series,
    graphic,
  };
}

export default function App() {
  const ref = useRef<HTMLDivElement>(null);
  useEffect(() => {
    if (!ref.current) return;
    const chart = echarts.init(ref.current, null, { renderer: "svg" });
    chart.setOption(buildOption() as any);
    return () => chart.dispose();
  }, []);
  return (
    <div
      ref={ref}
      style={{ position: "absolute", left: 0, top: 0, width: 749, height: 828, background: "#fff" }}
    />
  );
}
